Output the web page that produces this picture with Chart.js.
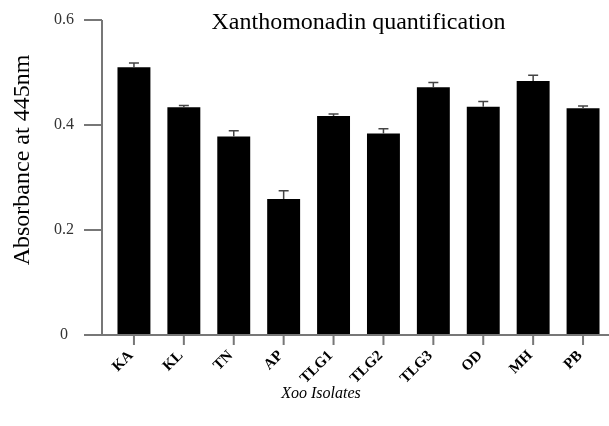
<!DOCTYPE html>
<html>
<head>
<meta charset="utf-8">
<script src="https://cdn.jsdelivr.net/npm/chart.js@4.4.0/dist/chart.umd.min.js"></script>
<style>
  body { margin: 0; background: #fff; }
  #wrap { width: 609px; height: 426px; position: relative; }
</style>
</head>
<body>
<div id="wrap"><canvas id="xanChart"></canvas></div>
<script>
const isolates = ['KA', 'KL', 'TN', 'AP', 'TLG1', 'TLG2', 'TLG3', 'OD', 'MH', 'PB'];
const absorbance = [0.510, 0.434, 0.378, 0.259, 0.417, 0.384, 0.472, 0.435, 0.484, 0.432];
const errors = [0.008, 0.003, 0.011, 0.016, 0.004, 0.009, 0.009, 0.010, 0.011, 0.004];
const yTicks = [0, 0.2, 0.4, 0.6];

const serif = '"Liberation Serif", "Times New Roman", serif';
const axisColor = '#777';

// error bars, axis lines and the free-floating texts
const decorPlugin = {
    id: 'decor',
    afterDatasetsDraw(chart) {
        const ctx = chart.ctx;
        const x = chart.scales.x;
        const y = chart.scales.y;
        const area = chart.chartArea;

        ctx.save();
        ctx.strokeStyle = '#444';
        ctx.lineWidth = 1.5;
        absorbance.forEach((v, i) => {
            const px = x.getPixelForValue(i);
            const top = y.getPixelForValue(v + errors[i]);
            const base = y.getPixelForValue(v);
            ctx.beginPath();
            ctx.moveTo(px, base);
            ctx.lineTo(px, top);
            ctx.moveTo(px - 5, top);
            ctx.lineTo(px + 5, top);
            ctx.stroke();
        });

        const axisX = area.left - 7;
        const zeroY = y.getPixelForValue(0);
        ctx.strokeStyle = axisColor;
        ctx.lineWidth = 2;
        ctx.beginPath();
        ctx.moveTo(axisX, y.getPixelForValue(yTicks[yTicks.length - 1]));
        ctx.lineTo(axisX, zeroY);
        ctx.moveTo(axisX - 18, zeroY);
        ctx.lineTo(chart.width, zeroY);
        yTicks.forEach(t => {
            const py = y.getPixelForValue(t);
            ctx.moveTo(axisX - 18, py);
            ctx.lineTo(axisX, py);
        });
        isolates.forEach((c, i) => {
            const px = x.getPixelForValue(i);
            ctx.moveTo(px, zeroY);
            ctx.lineTo(px, zeroY + 10);
        });
        ctx.stroke();

        ctx.fillStyle = '#333';
        ctx.font = '16px ' + serif;
        ctx.textAlign = 'center';
        ctx.textBaseline = 'middle';
        yTicks.forEach(t => {
            ctx.fillText(t === 0 ? '0' : t.toFixed(1), axisX - 38, y.getPixelForValue(t));
        });

        ctx.fillStyle = '#000';
        ctx.font = '24px ' + serif;
        ctx.textBaseline = 'alphabetic';
        ctx.fillText('Xanthomonadin quantification', (area.left + area.right) / 2, 29);

        ctx.font = 'italic 16px ' + serif;
        ctx.textBaseline = 'middle';
        ctx.fillText('Xoo Isolates', 321, 394);

        ctx.translate(23, 160);
        ctx.rotate(-Math.PI / 2);
        ctx.font = '24px ' + serif;
        ctx.fillText('Absorbance at 445nm', 0, 0);
        ctx.restore();
    }
};

const chart = new Chart(document.getElementById('xanChart'), {
    type: 'bar',
    data: {
        labels: isolates,
        datasets: [{
            label: 'Absorbance',
            data: absorbance,
            backgroundColor: '#000',
            borderWidth: 0,
            barPercentage: 0.66,
            categoryPercentage: 1
        }]
    },
    options: {
        responsive: true,
        maintainAspectRatio: false,
        animation: false,
        layout: { padding: { top: 20, right: 1, left: 0, bottom: 0 } },
        plugins: {
            legend: { display: false },
            tooltip: { enabled: false }
        },
        scales: {
            x: {
                grid: { display: false, drawTicks: false },
                border: { display: false },
                ticks: {
                    color: '#000',
                    font: { family: serif, size: 15, weight: 'bold' },
                    minRotation: 45,
                    maxRotation: 45,
                    padding: 12,
                    labelOffset: -3
                },
                afterFit(scale) { scale.height = 91; }
            },
            y: {
                min: 0,
                max: 0.6,
                ticks: { display: false, stepSize: 0.2 },
                grid: { display: false, drawTicks: false },
                border: { display: false },
                afterFit(scale) { scale.width = 109; }
            }
        }
    },
    plugins: [decorPlugin]
});
</script>
</body>
</html>
